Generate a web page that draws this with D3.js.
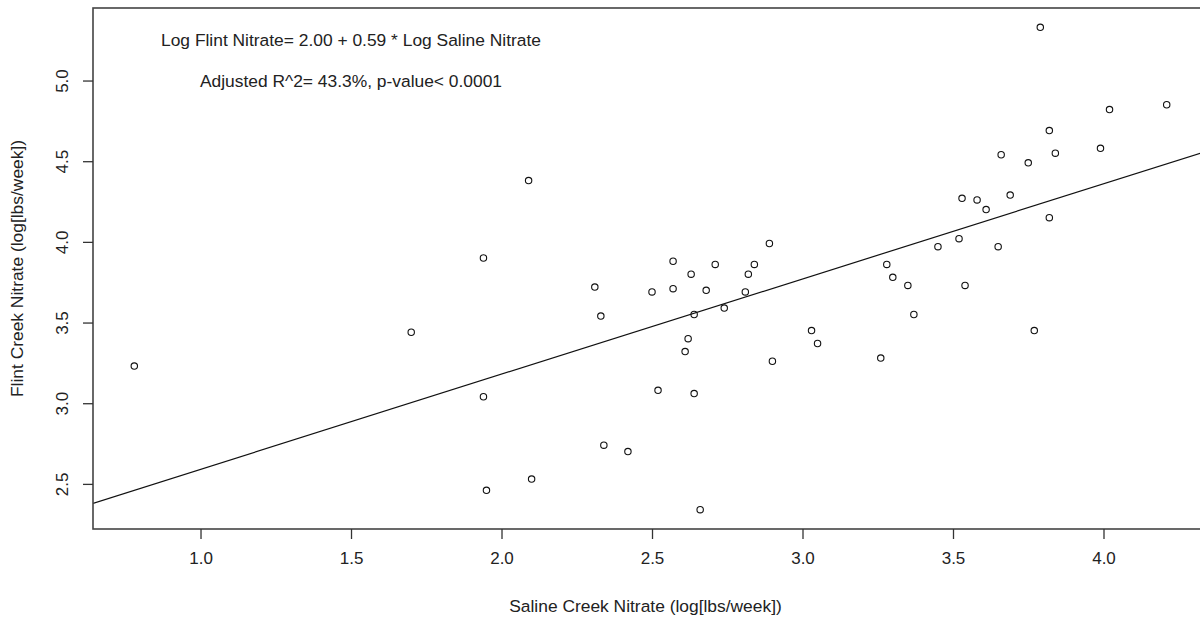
<!DOCTYPE html>
<html>
<head>
<meta charset="utf-8">
<script src="https://cdn.jsdelivr.net/npm/d3@7"></script>
<style>
  html, body { margin: 0; padding: 0; background: #fff; }
  svg { display: block; font-family: "Liberation Sans", Arial, sans-serif; }
</style>
</head>
<body>
<svg id="chart" width="1200" height="619"></svg>
<script>
// Log nitrate loads: Saline Creek (x) vs Flint Creek (y)
const salineNitrate = [
  0.78, 1.70, 1.94, 1.94, 1.95, 2.10, 2.09, 2.31, 2.33, 2.34,
  2.42, 2.50, 2.52, 2.57, 2.57, 2.61, 2.62, 2.63, 2.64, 2.64,
  2.66, 2.68, 2.71, 2.74, 2.81, 2.82, 2.84, 2.89, 2.90, 3.03,
  3.05, 3.26, 3.28, 3.30, 3.35, 3.37, 3.45, 3.52, 3.53, 3.58,
  3.54, 3.61, 3.65, 3.69, 3.82, 3.77, 3.79, 3.66, 3.75, 3.82,
  3.84, 3.99, 4.02, 4.21
];
const flintNitrate = [
  3.23, 3.44, 3.90, 3.04, 2.46, 2.53, 4.38, 3.72, 3.54, 2.74,
  2.70, 3.69, 3.08, 3.88, 3.71, 3.32, 3.40, 3.80, 3.55, 3.06,
  2.34, 3.70, 3.86, 3.59, 3.69, 3.80, 3.86, 3.99, 3.26, 3.45,
  3.37, 3.28, 3.86, 3.78, 3.73, 3.55, 3.97, 4.02, 4.27, 4.26,
  3.73, 4.20, 3.97, 4.29, 4.15, 3.45, 5.33, 4.54, 4.49, 4.69,
  4.55, 4.58, 4.82, 4.85
];

// Fitted regression line (as stated in the annotation)
const intercept = 2.00;
const slope = 0.59;

const xTicks = [1.0, 1.5, 2.0, 2.5, 3.0, 3.5, 4.0];
const yTicks = [2.5, 3.0, 3.5, 4.0, 4.5, 5.0];

const annotations = [
  { x: 1.5, y: 5.25, text: "Log Flint Nitrate= 2.00 + 0.59 * Log Saline Nitrate" },
  { x: 1.5, y: 5.00, text: "Adjusted R^2= 43.3%, p-value< 0.0001" }
];

const xTitle = "Saline Creek Nitrate (log[lbs/week])";
const yTitle = "Flint Creek Nitrate (log[lbs/week])";

// Plot region (right edge runs past the window)
const plot = { left: 93, right: 1208, top: 8, bottom: 529 };
const fontSize = 17.4;
const tickFontSize = 17;

// Data range with 4% padding on each side
function padded(values) {
  const [lo, hi] = d3.extent(values);
  const pad = (hi - lo) * 0.04;
  return [lo - pad, hi + pad];
}

const x = d3.scaleLinear().domain(padded(salineNitrate)).range([plot.left, plot.right]);
const y = d3.scaleLinear().domain(padded(flintNitrate)).range([plot.bottom, plot.top]);

const svg = d3.select("#chart");
const ink = "#222";

svg.append("defs").append("clipPath").attr("id", "plot-clip")
  .append("rect")
  .attr("x", plot.left).attr("y", plot.top)
  .attr("width", plot.right - plot.left).attr("height", plot.bottom - plot.top);

// Regression line across the full plot width
const [x0, x1] = x.domain();
svg.append("line")
  .attr("clip-path", "url(#plot-clip)")
  .attr("x1", x(x0)).attr("y1", y(intercept + slope * x0))
  .attr("x2", x(x1)).attr("y2", y(intercept + slope * x1))
  .attr("stroke", "#111").attr("stroke-width", 1.2);

// Points (open circles)
svg.append("g")
  .selectAll("circle")
  .data(salineNitrate.map((v, i) => [v, flintNitrate[i]]))
  .join("circle")
  .attr("cx", d => x(d[0]))
  .attr("cy", d => y(d[1]))
  .attr("r", 3.2)
  .attr("fill", "none")
  .attr("stroke", "#111")
  .attr("stroke-width", 1.1);

// Plot box
svg.append("rect")
  .attr("x", plot.left).attr("y", plot.top)
  .attr("width", plot.right - plot.left).attr("height", plot.bottom - plot.top)
  .attr("fill", "none").attr("stroke", "#444").attr("stroke-width", 1.6);

// X axis
const xAxis = svg.append("g")
  .attr("transform", `translate(0,${plot.bottom})`)
  .call(d3.axisBottom(x).tickValues(xTicks).tickFormat(d3.format(".1f")).tickSize(10).tickPadding(13));
xAxis.select(".domain").remove();
xAxis.selectAll(".tick line").attr("stroke", "#333").attr("stroke-width", 1.3);
xAxis.selectAll(".tick text").attr("fill", ink).attr("font-size", tickFontSize)
  .attr("font-family", "Liberation Sans, Arial, sans-serif");

// Y axis (labels rotated parallel to the axis)
const yAxis = svg.append("g")
  .attr("transform", `translate(${plot.left},0)`)
  .call(d3.axisLeft(y).tickValues(yTicks).tickFormat(d3.format(".1f")).tickSize(10));
yAxis.select(".domain").remove();
yAxis.selectAll(".tick line").attr("stroke", "#333").attr("stroke-width", 1.3);
yAxis.selectAll(".tick text")
  .attr("fill", ink).attr("font-size", tickFontSize)
  .attr("font-family", "Liberation Sans, Arial, sans-serif")
  .attr("x", null).attr("dy", null)
  .attr("text-anchor", "middle")
  .attr("dominant-baseline", "central")
  .attr("transform", "translate(-31,0) rotate(-90)");

// Axis titles
svg.append("text")
  .attr("x", (plot.left + 1200) / 2 - 1)
  .attr("y", 612)
  .attr("text-anchor", "middle")
  .attr("font-size", fontSize).attr("fill", ink)
  .text(xTitle);

svg.append("text")
  .attr("transform", `translate(23,${(plot.top + plot.bottom) / 2}) rotate(-90)`)
  .attr("text-anchor", "middle")
  .attr("font-size", fontSize).attr("fill", ink)
  .text(yTitle);

// Annotations in data coordinates
svg.append("g")
  .selectAll("text")
  .data(annotations)
  .join("text")
  .attr("x", d => x(d.x))
  .attr("y", d => y(d.y))
  .attr("text-anchor", "middle")
  .attr("dominant-baseline", "central")
  .attr("font-size", fontSize).attr("fill", ink)
  .text(d => d.text);
</script>
</body>
</html>
